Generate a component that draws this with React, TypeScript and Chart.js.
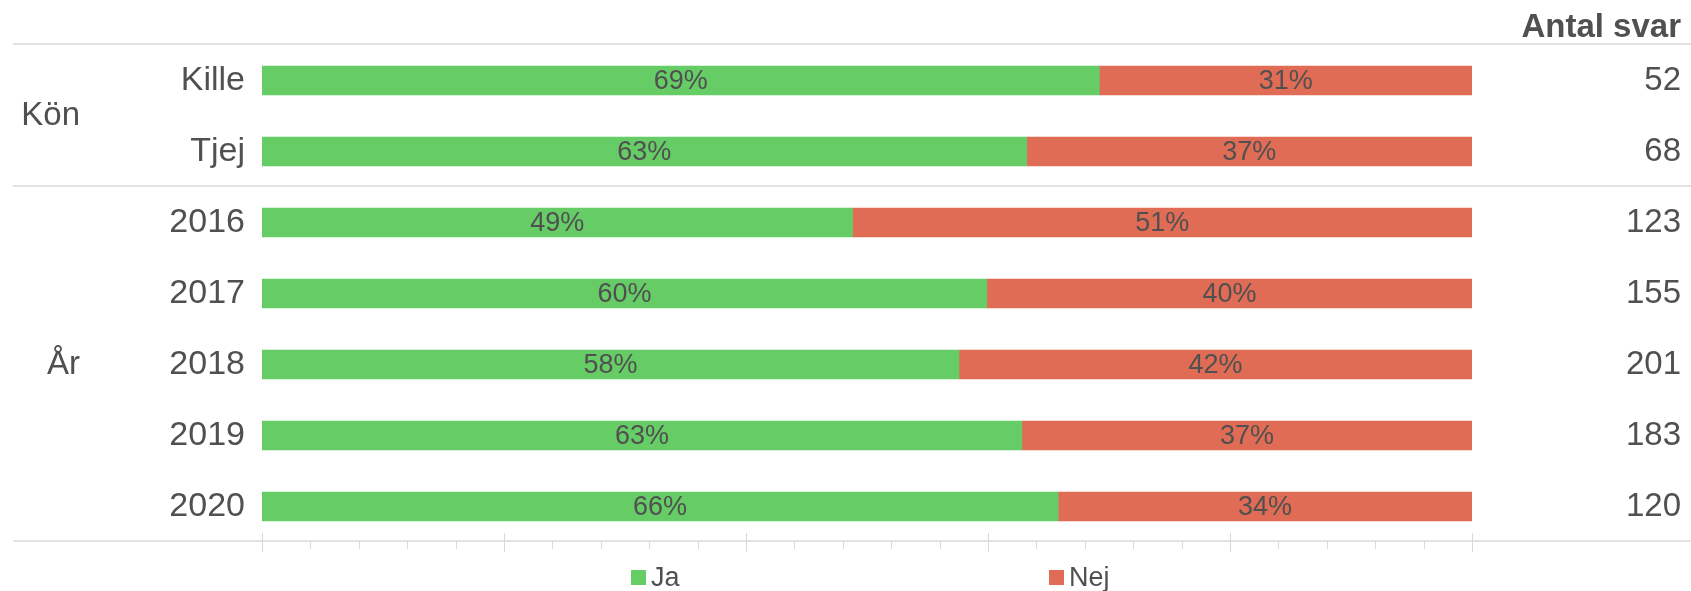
import React, { useEffect, useRef } from 'react';
import { Chart, registerables } from 'chart.js';

Chart.register(...registerables);

const categories = ['Kille', 'Tjej', '2016', '2017', '2018', '2019', '2020'];
const jaValues = [69.2, 63.2, 48.8, 59.9, 57.6, 62.8, 65.8];
const nejValues = [30.8, 36.8, 51.2, 40.1, 42.4, 37.2, 34.2];
const answerCounts = [52, 68, 123, 155, 201, 183, 120];
const groupLabels = ['Kön', 'År'];
const groupFirst = [0, 2];
const groupLast = [1, 6];
const seriesLabels = ['Ja', 'Nej'];
const countHeader = 'Antal svar';
const tickStep = 4;
const majorEvery = 20;

const GREEN = '#66cc66';
const RED = '#e06c55';
const TEXT = '#505050';
const FONT = '"Liberation Sans", Arial, Helvetica, sans-serif';
const W = 1691;
const H = 591;

const decorPlugin = {
  id: 'decor',
  beforeDatasetsDraw(chart: any) {
    const { ctx, chartArea, scales } = chart;
    const ys = scales.y;
    const xs = scales.x;
    ctx.save();
    ctx.strokeStyle = '#e2e2e2';
    ctx.lineWidth = 2;
    const bounds = [groupFirst[0] - 0.5, ...groupLast.map((i) => i + 0.5)];
    bounds.forEach((b) => {
      const py = Math.round(ys.getPixelForValue(b)) - 1;
      ctx.beginPath();
      ctx.moveTo(13, py);
      ctx.lineTo(W, py);
      ctx.stroke();
    });
    ctx.strokeStyle = '#d9d9d9';
    ctx.lineWidth = 1;
    const min = xs.min;
    const max = xs.max;
    for (let v = min; v <= max + 1e-9; v += tickStep) {
      const px = Math.round(xs.getPixelForValue(v)) + 0.5;
      const major = v % majorEvery === 0;
      ctx.beginPath();
      if (major) {
        ctx.moveTo(px, chartArea.bottom - 9);
        ctx.lineTo(px, chartArea.bottom + 10);
      } else {
        ctx.moveTo(px, chartArea.bottom);
        ctx.lineTo(px, chartArea.bottom + 7);
      }
      ctx.stroke();
    }
    ctx.restore();
  },
  afterDatasetsDraw(chart: any) {
    const { ctx, scales } = chart;
    const ys = scales.y;
    ctx.save();
    ctx.fillStyle = TEXT;
    ctx.font = `27px ${FONT}`;
    ctx.textAlign = 'center';
    ctx.textBaseline = 'middle';
    chart.data.datasets.forEach((ds: any, di: number) => {
      const meta = chart.getDatasetMeta(di);
      meta.data.forEach((el: any, i: number) => {
        const p = el.getProps(['x', 'y', 'base'], true);
        ctx.fillText(`${Math.round(ds.data[i])}%`, (p.x + p.base) / 2, p.y + 1);
      });
    });
    ctx.font = `33px ${FONT}`;
    ctx.textAlign = 'right';
    answerCounts.forEach((c, i) => {
      ctx.fillText(String(c), 1681, ys.getPixelForValue(i));
    });
    ctx.font = `bold 33px ${FONT}`;
    ctx.textBaseline = 'alphabetic';
    ctx.fillText(countHeader, 1681, 37);
    ctx.font = `33px ${FONT}`;
    ctx.textBaseline = 'middle';
    groupLabels.forEach((g, gi) => {
      const py = (ys.getPixelForValue(groupFirst[gi]) + ys.getPixelForValue(groupLast[gi])) / 2;
      ctx.fillText(g, 80, py);
    });
    const legendX = [631, 1049];
    const colors = [GREEN, RED];
    ctx.font = `27px ${FONT}`;
    ctx.textAlign = 'left';
    seriesLabels.forEach((l, i) => {
      ctx.fillStyle = colors[i];
      ctx.fillRect(legendX[i], 570, 15, 15);
      ctx.fillStyle = TEXT;
      ctx.fillText(l, legendX[i] + 20, 579);
    });
    ctx.restore();
  },
};

export default function App() {
  const ref = useRef<HTMLCanvasElement | null>(null);
  useEffect(() => {
    if (!ref.current) return;
    const chart = new Chart(ref.current, {
      type: 'bar',
      data: {
        labels: categories,
        datasets: [
          { label: seriesLabels[0], data: jaValues, backgroundColor: GREEN, borderWidth: 0, barThickness: 29 },
          { label: seriesLabels[1], data: nejValues, backgroundColor: RED, borderWidth: 0, barThickness: 29 },
        ],
      },
      options: {
        indexAxis: 'y',
        responsive: false,
        animation: false,
        layout: { padding: { top: 45, bottom: 49, right: 219, left: 0 } },
        plugins: { legend: { display: false }, tooltip: { enabled: false } },
        scales: {
          x: { stacked: true, min: 0, max: 100, display: false },
          y: {
            stacked: true,
            grid: { display: false, drawTicks: false },
            border: { display: false },
            ticks: { color: TEXT, font: { family: FONT, size: 34 }, padding: 17 },
            afterFit: (s: any) => {
              s.width = 262;
            },
          },
        },
      } as any,
      plugins: [decorPlugin],
    });
    return () => chart.destroy();
  }, []);
  return (
    <div style={{ position: 'absolute', left: 0, top: 0, width: W, height: H, background: '#fff' }}>
      <canvas ref={ref} width={W} height={H} style={{ display: 'block' }} />
    </div>
  );
}
